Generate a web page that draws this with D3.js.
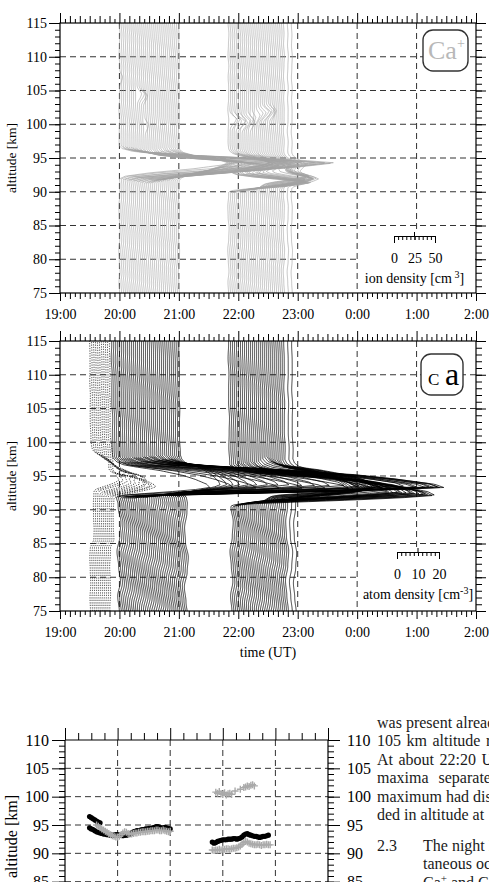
<!DOCTYPE html>
<html>
<head>
<meta charset="utf-8">
<script src="https://cdn.jsdelivr.net/npm/d3@7"></script>
<style>
  body { margin: 0; background: #fff; }
  svg { display: block; }
  .grid line { stroke: #333; stroke-width: 1; stroke-dasharray: 6,4; }
  .frame { fill: none; stroke: #000; stroke-width: 1.2; }
  .tick line { stroke: #000; }
</style>
</head>
<body>
<svg></svg>
<script>
const WIDTH = 489, HEIGHT = 882;
const FONT = "Liberation Serif, Times New Roman, serif";

// time axis of the profile panels (minutes after 19:00)
const hourLabels = ["19:00", "20:00", "21:00", "22:00", "23:00", "0:00", "1:00", "2:00"];
const altTicks = [75, 80, 85, 90, 95, 100, 105, 110, 115];
const peakAltTicks = [85, 90, 95, 100, 105, 110];

// Ca+ profiles: [minute, peak km, peak cm-3, 2nd km, 2nd cm-3, 3rd km, 3rd cm-3]
const ionRowsA = [
  [60, 94.5, 150, 107.0, 4], [62, 94.5, 180], [64, 94.4, 200], [66, 94.4, 215],
  [68, 94.3, 228], [70, 94.3, 238], [72, 94.3, 246], [74, 94.2, 240],
  [76, 94.2, 230], [78, 94.1, 218, 104.5, 5], [80, 94.1, 205, 104.5, 6],
  [82, 94.0, 192, 104.3, 6], [84, 94.0, 180, 104.2, 5], [86, 93.9, 170, 100.0, 4],
  [88, 93.9, 160], [90, 93.9, 150], [92, 93.9, 142], [94, 94.0, 135], [96, 94.0, 128],
  [98, 94.0, 122], [100, 94.1, 116], [102, 94.1, 110], [104, 94.2, 104], [106, 94.2, 98],
  [108, 94.2, 92], [110, 94.3, 86], [112, 94.3, 80], [114, 94.3, 75], [116, 94.3, 70],
  [118, 94.3, 65], [120, 94.3, 60]
];
const ionRowsB = [
  [170, 91.4, 100, 94.3, 50], [172, 91.3, 96, 94.3, 48, 100.8, 7],
  [174, 91.3, 92, 94.3, 46, 100.6, 6], [176, 91.4, 88, 94.3, 45, 100.9, 7],
  [178, 91.4, 85, 94.2, 44, 100.5, 6], [180, 91.4, 82, 94.2, 42, 100.4, 8],
  [182, 91.5, 78, 94.2, 40, 100.7, 7], [184, 91.5, 75, 94.2, 39, 100.3, 6],
  [186, 91.5, 72, 94.2, 38, 100.5, 7], [188, 91.5, 70, 94.1, 37, 100.6, 6],
  [190, 91.6, 68, 94.1, 36, 100.8, 7], [192, 91.6, 66, 94.1, 35, 100.4, 6],
  [194, 91.6, 64, 94.1, 34, 101.0, 5], [196, 91.7, 62, 94.1, 33],
  [198, 91.8, 60, 94.1, 32, 101.3, 5], [200, 91.9, 58, 94.0, 31, 101.6, 6],
  [202, 92.1, 56, 94.0, 30, 101.7, 7], [204, 92.3, 55, 94.0, 29, 101.9, 8],
  [206, 92.4, 54, 94.0, 28, 101.8, 8], [208, 92.3, 52, 94.0, 27, 102.0, 7],
  [210, 92.2, 50, 94.0, 26, 102.1, 7], [212, 92.1, 48, 94.0, 25, 101.9, 6],
  [214, 92.0, 46, 94.0, 24, 102.0, 5], [216, 92.0, 45, 94.0, 23],
  [218, 92.0, 44, 94.0, 22], [220, 92.0, 42, 94.0, 21], [222, 91.9, 40, 94.0, 20],
  [224, 91.9, 38, 94.0, 20], [226, 92.0, 36, 94.0, 19], [230, 92.0, 34, 94.0, 18],
  [234, 91.9, 32, 94.0, 18]
];

// Ca profiles: [minute, peak km, peak cm-3, 2nd km, 2nd cm-3]
const atomRowsDotted = [
  [30, 94.4, 12, 96.3, 10], [32, 94.3, 13, 96.1, 10], [34, 94.2, 14, 95.9, 9],
  [36, 94.0, 15, 95.7, 9], [38, 93.9, 16, 95.5, 8], [40, 93.8, 17, 95.3, 8],
  [42, 93.7, 18, 95.2, 7], [44, 93.6, 18, 95.1, 7], [46, 93.5, 19], [48, 93.5, 19],
  [50, 93.4, 20]
];
const atomRowsC = [
  [52, 93.3, 45], [54, 93.3, 55], [56, 93.2, 65], [58, 93.2, 75], [60, 93.2, 85],
  [62, 93.2, 95], [64, 93.2, 105], [66, 93.2, 115], [68, 93.2, 122], [70, 93.2, 128],
  [72, 93.3, 133], [74, 93.3, 137], [76, 93.3, 140], [78, 93.3, 142], [80, 93.3, 143],
  [82, 93.4, 139], [84, 93.4, 134], [86, 93.4, 127], [88, 93.5, 120], [90, 93.5, 112],
  [92, 93.5, 104], [94, 93.5, 96], [96, 93.6, 88], [98, 93.6, 80], [100, 93.6, 72],
  [102, 93.6, 65], [104, 93.7, 58], [106, 93.7, 52], [108, 93.7, 46], [110, 93.7, 40],
  [112, 93.7, 35], [114, 93.7, 30], [116, 93.7, 26], [118, 93.7, 22], [120, 93.7, 18]
];
const atomRowsD = [
  [170, 92.2, 97], [172, 92.1, 95], [174, 92.2, 92], [176, 92.3, 90], [178, 92.3, 88],
  [180, 92.4, 85], [182, 92.4, 82], [184, 92.4, 80], [186, 92.5, 78], [188, 92.5, 75],
  [190, 92.5, 72], [192, 92.6, 70], [194, 92.6, 68], [196, 92.5, 65], [198, 92.6, 62],
  [200, 92.7, 60], [202, 92.9, 58], [204, 93.1, 56], [206, 93.3, 54], [208, 93.4, 52],
  [210, 93.3, 50], [212, 93.2, 48], [214, 93.1, 46], [216, 93.0, 44], [218, 93.0, 42],
  [220, 92.9, 40], [222, 92.8, 38], [224, 92.9, 36], [226, 93.0, 34], [230, 93.0, 30],
  [234, 93.1, 26]
];

// relative layer shapes (km from peak -> fraction of peak)
const ionShapeKm = [-2.6, -2.2, -1.7, -1.1, -0.5, 0, 0.35, 0.7, 1.1, 1.5, 1.9, 2.3];
const ionShapeRel = [0, 0.05, 0.25, 0.6, 0.85, 1, 0.85, 0.6, 0.3, 0.1, 0.02, 0];
const atomShapeKm = [-1.5, -1.3, -1.1, -0.9, -0.6, -0.3, 0, 0.4, 1.0, 1.5, 2.1, 2.5, 2.8, 3.2, 3.7];
const atomShapeRel = [0, 0.02, 0.1, 0.3, 0.6, 0.85, 1, 0.97, 0.85, 0.72, 0.48, 0.25, 0.1, 0.03, 0];

// background densities (km -> cm-3)
const bgNoneKm = [75, 115], bgNone = [0, 0];
const bgDottedKm = [75, 84.5, 85.5, 92, 98, 100.5, 115], bgDotted = [0.3, 0.3, 1.8, 2, 1.5, 0.4, 0];
const bgCKm = [75, 91, 93, 98, 115], bgC = [3.5, 3.5, 2, 0.5, 0];
const bgDKm = [75, 91, 95, 115], bgD = [1.5, 1.5, 0.5, 0];

// small fluctuation table, read along altitude
const wiggle = [0.2, -0.5, 0.7, -0.1, -0.8, 0.4, 0.9, -0.3, -0.7, 0.3,
  0.6, -0.6, 0.1, 0.8, -0.4, -0.2, 0.5, -0.7, 0.3, 0.4,
  -0.3, 0.6, -0.5, 0.1, 0.7, -0.4, 0.2, -0.6, 0.4, 0.5,
  -0.2, 0.1, -0.5, 0.6, 0.2, -0.4, 0.3, -0.1, 0.5, -0.3, 0.1];

// peak altitudes (km), one value every 2 min from the start minute
const caUpperStart = 28;
const caUpperAlt = [96.5, 96.3, 96.1, 95.9, 95.7, 95.5, 95.4];
const caLowerStart = 28;
const caLowerAlt = [94.5, 94.3, 94.2, 94.0, 93.8, 93.7, 93.6, 93.5, 93.4, 93.4, 93.3, 93.3,
  93.2, 93.2, 93.2, 93.3, 93.3, 93.2, 93.2, 93.1, 93.2, 93.2, 93.3, 93.4, 93.6, 93.8,
  93.9, 94.0, 94.0, 94.1, 94.2, 94.2, 94.3, 94.3, 94.4, 94.4, 94.5, 94.6, 94.7, 94.7,
  94.6, 94.5, 94.5, 94.6, 94.5, 94.4, 94.3];
const caLateStart = 168;
const caLateAlt = [92.0, 91.8, 91.9, 92.1, 92.2, 92.3, 92.4, 92.4, 92.4, 92.5, 92.5, 92.5,
  92.6, 92.6, 92.5, 92.6, 92.7, 92.9, 93.2, 93.4, 93.5, 93.3, 93.2, 93.1, 93.0, 93.0,
  92.9, 92.8, 92.9, 93.0, 93.0, 93.1, 93.2];
const ionEarlyStart = 36;
const ionEarlyAlt = [95.0, 94.8, 94.5, 94.3, 94.1, 93.9, 93.7, 93.5, 93.3, 93.1, 93.0, 92.9,
  92.9, 93.0, 93.3, 93.6, 93.8, 93.7, 93.5, 93.4, 93.4, 93.5, 93.6, 93.6, 93.7, 93.7,
  93.8, 93.8, 93.8, 93.9, 93.9, 94.0, 94.0, 94.0, 94.1, 94.1, 94.0, 94.0, 94.1, 94.0,
  93.9, 93.8, 93.9];
const ionLateStart = 168;
const ionLateAlt = [90.6, 90.5, 90.6, 90.6, 90.7, 90.6, 90.7, 90.7, 90.8, 90.8, 90.7, 90.8,
  90.9, 90.9, 91.0, 91.1, 91.3, 91.6, 91.9, 92.1, 92.0, 91.8, 91.7, 91.6, 91.5, 91.5,
  91.6, 91.5, 91.4, 91.5, 91.5, 91.6, 91.5, 91.5];
const ionHighPeaks = [[172, 100.8], [174, 100.6], [176, 100.9], [178, 100.5], [180, 100.4],
  [182, 100.7], [184, 100.3], [186, 100.5], [188, 100.6], [190, 100.4], [194, 101.0],
  [200, 101.3], [204, 101.6], [206, 101.7], [208, 101.9], [210, 101.8], [212, 102.0],
  [214, 102.1], [216, 101.9]];

// text column of the page
const bodyLines = ["was present already", "105 km altitude region", "At about 22:20 UT",
  "maxima separated", "maximum had disappeared", "ded in altitude at"];
const bodySpacing = [0, 1.5, 1.5, 6, 0, 0];
const sectionNumber = "2.3";
const sectionLines = ["The night March", "taneous occurrence"];

// ---------------------------------------------------------------
const svg = d3.select("svg").attr("width", WIDTH).attr("height", HEIGHT)
  .attr("font-family", FONT);
svg.append("rect").attr("width", WIDTH).attr("height", HEIGHT).attr("fill", "#fff");

const x = d3.scaleLinear().domain([0, 420]).range([60, 476]);
const yTop = d3.scaleLinear().domain([75, 115]).range([293, 23]);
const yBot = d3.scaleLinear().domain([75, 115]).range([611, 341]);
const ionPx = d3.scaleLinear().domain([0, 50]).range([0, 41]);
const atomPx = d3.scaleLinear().domain([0, 20]).range([0, 42]);
const ionShape = d3.scaleLinear().domain(ionShapeKm).range(ionShapeRel).clamp(true);
const atomShape = d3.scaleLinear().domain(atomShapeKm).range(atomShapeRel).clamp(true);

const altGrid = d3.range(75, 115.0001, 0.1);
const line = d3.line();

// fluctuation: smooth read of the table, each profile a little further along
const wiggleAt = p => {
  const k = Math.floor(p), f = p - k, n = wiggle.length;
  const s = f * f * (3 - 2 * f);
  return wiggle[k % n] * (1 - s) + wiggle[(k + 1) % n] * s;
};

const profilePath = (row, i, cfg) => {
  const [m, z1, a1, z2 = 0, a2 = 0, z3 = 0, a3 = 0] = row;
  const bg = d3.scaleLinear().domain(cfg.bgKm).range(cfg.bg).clamp(true);
  const layer = (alt, z, a, wu, wl) =>
    a ? a * cfg.shape(alt >= z ? (alt - z) / wu : (alt - z) / wl) : 0;
  return line(altGrid.map(alt => {
    const d = bg(alt) +
      wiggleAt((alt - 75) / cfg.period + i * cfg.shift) * (alt < cfg.wigSplit ? cfg.wigLo : cfg.wigHi) +
      layer(alt, z1, a1, cfg.wu, cfg.wl) +
      layer(alt, z2, a2, cfg.wu2, cfg.wl2) +
      layer(alt, z3, a3, 0.6, 0.6);
    return [x(m) + cfg.px(d), cfg.y(alt)];
  }));
};

const ionA = { y: yTop, px: ionPx, shape: ionShape, wu: 1, wl: 1, wu2: 0.6, wl2: 0.6,
  bgKm: bgNoneKm, bg: bgNone, period: 1.6, shift: 0.07, wigSplit: 92, wigLo: 1.0, wigHi: 0.9 };
const ionB = { y: yTop, px: ionPx, shape: ionShape, wu: 0.8, wl: 0.55, wu2: 0.9, wl2: 0.6,
  bgKm: bgNoneKm, bg: bgNone, period: 1.6, shift: 0.07, wigSplit: 92, wigLo: 1.0, wigHi: 0.9 };
const atomDot = { y: yBot, px: atomPx, shape: atomShape, wu: 0.7, wl: 1.2, wu2: 0.8, wl2: 1.0,
  bgKm: bgDottedKm, bg: bgDotted, period: 2, shift: 0.07, wigSplit: 92, wigLo: 0.3, wigHi: 0.2 };
const atomC = { y: yBot, px: atomPx, shape: atomShape, wu: 1.2, wl: 1, wu2: 1, wl2: 1,
  bgKm: bgCKm, bg: bgC, period: 2.2, shift: 0.07, wigSplit: 92, wigLo: 1.1, wigHi: 0.3 };
const atomD = { y: yBot, px: atomPx, shape: atomShape, wu: 1.2, wl: 1.1, wu2: 1, wl2: 1,
  bgKm: bgDKm, bg: bgD, period: 2.2, shift: 0.07, wigSplit: 92, wigLo: 0.9, wigHi: 0.3 };

const cleanAxis = (g, size) => {
  g.select(".domain").remove();
  g.attr("font-family", FONT).attr("font-size", size).attr("fill", null);
  g.selectAll("text").attr("fill", "#000");
};

const drawProfilePanel = (y, id) => {
  const panel = svg.append("g");
  svg.append("clipPath").attr("id", id).append("rect")
    .attr("x", x(0)).attr("y", y(115)).attr("width", x(420) - x(0)).attr("height", y(75) - y(115));

  const grid = panel.append("g").attr("class", "grid");
  grid.selectAll("line.v").data(d3.range(60, 361, 60)).join("line").attr("class", "v")
    .attr("x1", d => x(d)).attr("x2", d => x(d)).attr("y1", y(115)).attr("y2", y(75));
  grid.selectAll("line.h").data(d3.range(80, 111, 5)).join("line").attr("class", "h")
    .attr("x1", x(0)).attr("x2", x(420)).attr("y1", d => y(d)).attr("y2", d => y(d));

  const profiles = panel.append("g").attr("clip-path", `url(#${id})`);

  // time axes
  const bottom = panel.append("g").attr("transform", `translate(0,${y(75)})`);
  bottom.append("g").call(d3.axisBottom(x).tickValues(d3.range(0, 421, 60)).tickSize(8)
    .tickPadding(8).tickFormat((d, i) => hourLabels[i])).call(cleanAxis, 14);
  bottom.append("g").call(d3.axisBottom(x).tickValues(d3.range(10, 421, 10).filter(d => d % 60))
    .tickSize(6).tickFormat("")).call(cleanAxis, 14);
  bottom.append("g").call(d3.axisBottom(x).tickValues(d3.range(5, 421, 10))
    .tickSize(4).tickFormat("")).call(cleanAxis, 14);
  const top = panel.append("g").attr("transform", `translate(0,${y(115)})`);
  top.append("g").call(d3.axisTop(x).tickValues(d3.range(0, 421, 60)).tickSize(10)
    .tickFormat("")).call(cleanAxis, 14);
  top.append("g").call(d3.axisTop(x).tickValues(d3.range(10, 421, 10).filter(d => d % 60))
    .tickSize(7).tickFormat("")).call(cleanAxis, 14);
  top.append("g").call(d3.axisTop(x).tickValues(d3.range(5, 421, 10))
    .tickSize(4).tickFormat("")).call(cleanAxis, 14);

  // altitude axes
  const left = panel.append("g").attr("transform", `translate(${x(0)},0)`);
  left.append("g").call(d3.axisLeft(y).tickValues(altTicks).tickSize(11).tickPadding(2))
    .call(cleanAxis, 14);
  left.append("g").call(d3.axisLeft(y).tickValues(d3.range(75, 116)).tickSize(5).tickFormat(""))
    .call(cleanAxis, 14);
  const right = panel.append("g").attr("transform", `translate(${x(420)},0)`);
  right.append("g").call(d3.axisRight(y).tickValues(altTicks).tickSize(10).tickFormat(""))
    .call(cleanAxis, 14);
  right.append("g").call(d3.axisRight(y).tickValues(d3.range(75, 116)).tickSize(6).tickFormat(""))
    .call(cleanAxis, 14);

  panel.append("text").attr("transform", `translate(16,${(y(75) + y(115)) / 2}) rotate(-90)`)
    .attr("text-anchor", "middle").attr("font-size", 13.5).text("altitude [km]");
  return { panel, profiles, y };
};

const drawFrame = p => {
  p.panel.append("rect").attr("class", "frame")
    .attr("x", x(0)).attr("y", p.y(115)).attr("width", x(420) - x(0))
    .attr("height", p.y(75) - p.y(115));
};

const drawRows = (g, rows, cfg, stroke, width, dash) => {
  g.append("g").selectAll("path").data(rows).join("path")
    .attr("d", (r, i) => profilePath(r, i, cfg))
    .attr("fill", "none").attr("stroke", stroke).attr("stroke-width", width)
    .attr("stroke-dasharray", dash);
};

// ---- Ca+ panel
const ionPanel = drawProfilePanel(yTop, "clipTop");
drawRows(ionPanel.profiles, ionRowsA, ionA, "#a2a2a2", 0.65, null);
drawRows(ionPanel.profiles, ionRowsB, ionB, "#a2a2a2", 0.65, null);

// ---- Ca panel
const atomPanel = drawProfilePanel(yBot, "clipBot");
drawRows(atomPanel.profiles, atomRowsDotted, atomDot, "#111", 0.8, "1.2,1.3");
drawRows(atomPanel.profiles, atomRowsC, atomC, "#000", 0.75, null);
drawRows(atomPanel.profiles, atomRowsD, atomD, "#000", 0.75, null);

// legend areas cover the grid
ionPanel.panel.append("rect").attr("x", 359).attr("y", 231).attr("width", 116).attr("height", 61)
  .attr("fill", "#fff");
atomPanel.panel.append("rect").attr("x", 359).attr("y", 547).attr("width", 116).attr("height", 63)
  .attr("fill", "#fff");
drawFrame(ionPanel);
drawFrame(atomPanel);

svg.append("text").attr("x", 268).attr("y", 657).attr("text-anchor", "middle")
  .attr("font-size", 14).text("time (UT)");

// labels in boxes
svg.append("rect").attr("x", 423).attr("y", 30).attr("width", 45).attr("height", 41)
  .attr("rx", 10).attr("fill", "#fff").attr("stroke", "#333").attr("stroke-width", 1.4);
const ionName = svg.append("text").attr("x", 428).attr("y", 59).attr("fill", "#b8b8b8")
  .attr("font-size", 26);
ionName.append("tspan").text("Ca");
ionName.append("tspan").attr("font-size", 14).attr("dy", -11).text("+");

svg.append("rect").attr("x", 421).attr("y", 354).attr("width", 42).attr("height", 41)
  .attr("rx", 10).attr("fill", "#fff").attr("stroke", "#333").attr("stroke-width", 1.4);
svg.append("text").attr("x", 428).attr("y", 385).attr("font-size", 17).text("C");
svg.append("text").attr("x", 445).attr("y", 385).attr("font-size", 32).text("a");

// density scale bars
const scaleBar = (x0, yBar, px, step, labels, title, sup) => {
  const g = svg.append("g").attr("transform", `translate(${x0},${yBar})`);
  const maxV = px.domain()[1];
  g.append("g").call(d3.axisBottom(px).tickValues(d3.range(0, maxV + 0.01, step)).tickSize(4)
    .tickSizeOuter(0).tickFormat("")).call(s => s.select(".domain").attr("stroke", "#000"))
    .attr("fill", null);
  g.append("g").call(d3.axisBottom(px).tickValues([0, maxV]).tickSize(7).tickFormat(""))
    .call(cleanAxis, 14);
  g.append("g").call(d3.axisBottom(px).tickValues([maxV / 2]).tickSize(4).tickFormat(""))
    .call(cleanAxis, 14);
  g.append("line").attr("x1", px(maxV / 2)).attr("x2", px(maxV / 2)).attr("y1", -4).attr("y2", 0)
    .attr("stroke", "#000");
  g.append("g").call(d3.axisBottom(px).tickValues(labels).tickSize(0).tickPadding(17))
    .call(cleanAxis, 14);
  const t = g.append("text").attr("x", px(maxV / 2)).attr("y", 47).attr("text-anchor", "middle")
    .attr("font-size", 14).text(title);
  t.append("tspan").attr("dy", -5).attr("font-size", 10).text(sup);
  t.append("tspan").attr("dy", 5).text("]");
};
scaleBar(394, 236, ionPx, 5, [0, 25, 50], "ion  density [cm", " 3");
scaleBar(397, 552, atomPx, 2, [0, 10, 20], "atom density [cm", "-3");

// ---- peak altitude panel
const x3 = d3.scaleLinear().domain([0, 300]).range([65, 328]);
const y3 = d3.scaleLinear().domain([80, 110]).range([740 + 30 * 5.667, 740]);
const p3 = svg.append("g");
const grid3 = p3.append("g").attr("class", "grid");
grid3.selectAll("line.v").data(d3.range(60, 241, 60)).join("line").attr("class", "v")
  .attr("x1", d => x3(d)).attr("x2", d => x3(d)).attr("y1", y3(110)).attr("y2", HEIGHT);
grid3.selectAll("line.h").data(d3.range(85, 106, 5)).join("line").attr("class", "h")
  .attr("x1", x3(0)).attr("x2", x3(300)).attr("y1", d => y3(d)).attr("y2", d => y3(d));

const top3 = p3.append("g").attr("transform", `translate(0,${y3(110)})`);
top3.append("g").call(d3.axisTop(x3).tickValues(d3.range(0, 301, 60)).tickSize(12).tickFormat(""))
  .call(cleanAxis, 16);
top3.append("g").call(d3.axisTop(x3).tickValues(d3.range(15, 301, 15).filter(d => d % 60))
  .tickSize(7).tickFormat("")).call(cleanAxis, 16);
const left3 = p3.append("g").attr("transform", `translate(${x3(0)},0)`);
left3.append("g").call(d3.axisLeft(y3).tickValues(peakAltTicks).tickSize(13).tickPadding(3))
  .call(cleanAxis, 16);
left3.append("g").call(d3.axisLeft(y3).tickValues(d3.range(80, 111)).tickSize(6).tickFormat(""))
  .call(cleanAxis, 16);
const right3 = p3.append("g").attr("transform", `translate(${x3(300)},0)`);
right3.append("g").call(d3.axisRight(y3).tickValues(peakAltTicks).tickSize(12).tickPadding(7))
  .call(cleanAxis, 16);
right3.append("g").call(d3.axisRight(y3).tickValues(d3.range(80, 111)).tickSize(6).tickFormat(""))
  .call(cleanAxis, 16);
p3.append("line").attr("x1", x3(0)).attr("x2", x3(300)).attr("y1", y3(110)).attr("y2", y3(110))
  .attr("stroke", "#000").attr("stroke-width", 1.2);
p3.append("line").attr("x1", x3(0)).attr("x2", x3(0)).attr("y1", y3(110)).attr("y2", HEIGHT)
  .attr("stroke", "#000").attr("stroke-width", 1.2);
p3.append("line").attr("x1", x3(300)).attr("x2", x3(300)).attr("y1", y3(110)).attr("y2", HEIGHT)
  .attr("stroke", "#000").attr("stroke-width", 1.2);

const toPoints = (start, alts) => alts.map((a, i) => [start + 2 * i, a]);
const caPoints = [].concat(toPoints(caUpperStart, caUpperAlt), toPoints(caLowerStart, caLowerAlt),
  toPoints(caLateStart, caLateAlt));
const ionPoints = [].concat(toPoints(ionEarlyStart, ionEarlyAlt), toPoints(ionLateStart, ionLateAlt),
  ionHighPeaks);

p3.append("g").selectAll("circle").data(caPoints).join("circle")
  .attr("cx", d => x3(d[0])).attr("cy", d => y3(d[1])).attr("r", 2.6).attr("fill", "#000");
p3.append("g").selectAll("path").data(ionPoints).join("path")
  .attr("d", d => `M${x3(d[0]) - 3.5},${y3(d[1])}h7M${x3(d[0])},${y3(d[1]) - 3.5}v7`)
  .attr("stroke", "#aaa").attr("stroke-width", 1.4).attr("fill", "none");

svg.append("text").attr("transform", `translate(17,795) rotate(-90)`).attr("text-anchor", "end")
  .attr("font-size", 16).text("peak altitude [km]");

// ---- text column
const textCol = svg.append("g").attr("font-size", 16).attr("fill", "#1a1a1a");
textCol.selectAll("text.body").data(bodyLines).join("text").attr("class", "body")
  .attr("x", 377).attr("y", (d, i) => 728 + i * 18.4)
  .attr("word-spacing", (d, i) => bodySpacing[i]).text(d => d);
textCol.append("text").attr("x", 377).attr("y", 851).text(sectionNumber);
textCol.selectAll("text.sec").data(sectionLines).join("text").attr("class", "sec")
  .attr("x", 423).attr("y", (d, i) => 851 + i * 18.4).text(d => d);
const caLine = textCol.append("text").attr("x", 423).attr("y", 888);
caLine.append("tspan").text("Ca");
caLine.append("tspan").attr("dy", -6).attr("font-size", 11).text("+");
caLine.append("tspan").attr("dy", 6).text(" and Ca");
</script>
</body>
</html>
